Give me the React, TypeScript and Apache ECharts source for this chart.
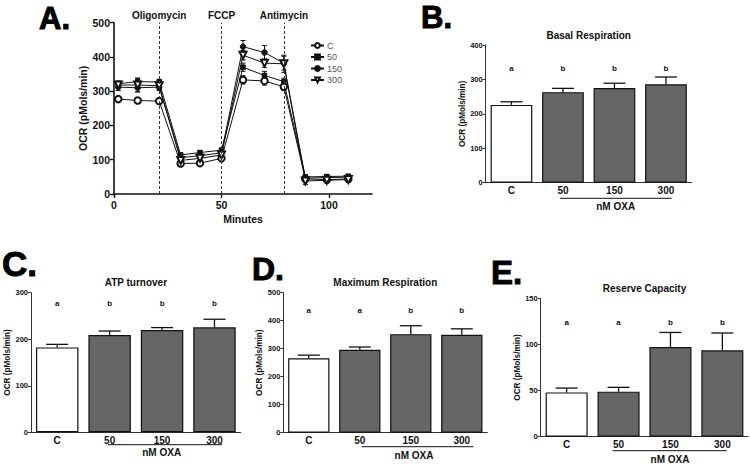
import React, { useEffect, useRef } from "react";
import * as echarts from "echarts";

const FONT = "'Liberation Sans', Arial, Helvetica, sans-serif";
const INK = "#111";

// ---------- Panel A: OCR time course ----------
const minutes = [2, 11, 21, 31, 40, 50, 60, 70, 79, 89, 99, 109];
const groups = ["C", "50", "150", "300"];
const ocrC = [277, 273, 271, 89, 90, 104, 333, 330, 313, 44, 42, 44];
const errC = [6, 6, 8, 6, 5, 6, 12, 12, 10, 8, 8, 6];
const ocr50 = [322, 328, 327, 114, 121, 128, 370, 346, 328, 50, 51, 52];
const err50 = [8, 10, 8, 5, 5, 6, 12, 12, 10, 5, 5, 5];
const ocr150 = [312, 310, 312, 106, 112, 120, 430, 413, 382, 46, 48, 49];
const err150 = [10, 12, 10, 5, 5, 6, 18, 20, 20, 6, 5, 6];
const ocr300 = [318, 318, 316, 98, 104, 114, 405, 382, 380, 38, 40, 42];
const err300 = [8, 20, 10, 6, 5, 6, 14, 12, 25, 10, 8, 8];
const injectionTimes = [21, 50, 79];
const injectionNames = ["Oligomycin", "FCCP", "Antimycin"];
const timeTicks = [0, 50, 100];

// ---------- Bar panels ----------
const barCategories = ["C", "50", "150", "300"];
const basalMean = [226, 263, 275, 286];
const basalErr = [9, 11, 14, 21];
const basalLetters = ["a", "b", "b", "b"];
const atpMean = [182.5, 209, 220, 225.5];
const atpErr = [6.5, 8.6, 5, 17.5];
const atpLetters = ["a", "b", "b", "b"];
const maxMean = [266, 296, 352, 350];
const maxErr = [11, 10, 30, 21];
const maxLetters = ["a", "a", "b", "b"];
const reserveMean = [48, 48.8, 97.2, 93.6];
const reserveErr = [4.7, 4.7, 15.8, 18.8];
const reserveLetters = ["a", "a", "b", "b"];

const seriesA = [
  { name: "C", y: ocrC, e: errC, symbol: "emptyCircle", size: 6.5, rotate: 0 },
  { name: "50", y: ocr50, e: err50, symbol: "rect", size: 4.5, rotate: 0 },
  { name: "150", y: ocr150, e: err150, symbol: "circle", size: 5.5, rotate: 0 },
  { name: "300", y: ocr300, e: err300, symbol: "emptyTriangle", size: 7, rotate: 180 },
];

const barPanels = [
  {
    letter: "B.", letterX: 421, letterY: 17.5, letterSize: 31,
    title: "Basal Respiration", mean: basalMean, err: basalErr, letters: basalLetters,
    max: 400, interval: 100, letterPos: 332,
    grid: { left: 485.7, top: 45, width: 206, height: 137.7 },
    nameGap: 16, lineX: [560, 671.7], lineY: 198.3, oxaX: 615.7, oxaY: 206.8,
  },
  {
    letter: "C.", letterX: 2, letterY: 263.5, letterSize: 35,
    title: "ATP turnover", mean: atpMean, err: atpErr, letters: atpLetters,
    max: 300, interval: 100, letterPos: 277,
    grid: { left: 31, top: 292.7, width: 209.7, height: 139.6 },
    nameGap: 16, lineX: [108, 222], lineY: 444.7, oxaX: 161.7, oxaY: 452.8,
  },
  {
    letter: "D.", letterX: 252, letterY: 269, letterSize: 32,
    title: "Maximum Respiration", mean: maxMean, err: maxErr, letters: maxLetters,
    max: 500, interval: 100, letterPos: 436,
    grid: { left: 283.3, top: 292.7, width: 204, height: 140 },
    nameGap: 18, lineX: [361.7, 473.3], lineY: 446.7, oxaX: 414, oxaY: 455,
  },
  {
    letter: "E.", letterX: 491, letterY: 272.5, letterSize: 33,
    title: "Reserve Capacity", mean: reserveMean, err: reserveErr, letters: reserveLetters,
    max: 150, interval: 50, letterPos: 124,
    grid: { left: 540.7, top: 298.3, width: 207.6, height: 138.4 },
    nameGap: 16.5, lineX: [612.7, 726.7], lineY: 450.7, oxaX: 670, oxaY: 459.3,
  },
];

function buildOption() {
  const grids: any[] = [{ left: 114, top: 22.7, width: 258, height: 171.3 }];
  const xAxes: any[] = [
    {
      type: "value", gridIndex: 0, min: 0, max: 120,
      name: "Minutes", nameLocation: "middle", nameGap: 19,
      nameTextStyle: { fontFamily: FONT, fontWeight: "bold", fontSize: 10.5, color: INK },
      axisLine: { show: true, lineStyle: { color: INK, width: 1.6 } },
      axisTick: { show: true, length: 4, lineStyle: { color: INK, width: 1.4 }, customValues: timeTicks },
      axisLabel: { fontFamily: FONT, fontWeight: "bold", fontSize: 10.5, color: INK, margin: 5, customValues: timeTicks },
      splitLine: { show: false },
    },
  ];
  const yAxes: any[] = [
    {
      type: "value", gridIndex: 0, min: 0, max: 500, interval: 100,
      name: "OCR (pMols/min)", nameLocation: "middle", nameGap: 24, nameRotate: 90,
      nameTextStyle: { fontFamily: FONT, fontWeight: "bold", fontSize: 10.5, color: INK },
      axisLine: { show: true, lineStyle: { color: INK, width: 1.6 } },
      axisTick: { show: true, length: 4, lineStyle: { color: INK, width: 1.4 } },
      axisLabel: { fontFamily: FONT, fontWeight: "bold", fontSize: 10.5, color: INK, margin: 4 },
      splitLine: { show: false },
    },
  ];
  const series: any[] = [];

  seriesA.forEach((s, k) => {
    series.push({
      type: "custom", name: s.name + " err", xAxisIndex: 0, yAxisIndex: 0, z: 2,
      data: minutes.map((m, i) => [m, s.y[i], s.e[i]]),
      encode: { x: 0, y: 1 },
      renderItem: (params: any, api: any) => {
        const x = api.value(0), y = api.value(1), e = api.value(2);
        const t = api.coord([x, y + e]);
        const b = api.coord([x, y - e]);
        const w = 2.5;
        const st = { stroke: INK, lineWidth: 1 };
        return {
          type: "group",
          children: [
            { type: "line", shape: { x1: t[0], y1: t[1], x2: b[0], y2: b[1] }, style: st },
            { type: "line", shape: { x1: t[0] - w, y1: t[1], x2: t[0] + w, y2: t[1] }, style: st },
            { type: "line", shape: { x1: b[0] - w, y1: b[1], x2: b[0] + w, y2: b[1] }, style: st },
          ],
        };
      },
    });
    const line: any = {
      type: "line", name: s.name, xAxisIndex: 0, yAxisIndex: 0, z: 3,
      data: minutes.map((m, i) => [m, s.y[i]]),
      symbol: s.symbol, symbolSize: s.size, symbolRotate: s.rotate, showAllSymbol: true,
      lineStyle: { color: INK, width: 1 },
      itemStyle: { color: INK, borderColor: INK, borderWidth: 1 },
    };
    if (k === 0) {
      line.markLine = {
        silent: true, symbol: "none", animation: false,
        lineStyle: { color: "#333", type: [3, 2], width: 1 },
        label: {
          show: true, position: "end", distance: 2,
          fontFamily: FONT, fontWeight: "bold", fontSize: 10, color: INK,
          formatter: (p: any) => injectionNames[injectionTimes.indexOf(p.value)],
        },
        data: injectionTimes.map((t) => ({ xAxis: t })),
      };
    }
    series.push(line);
  });

  const graphics: any[] = [
    {
      type: "text", x: 39, y: 18,
      style: { text: "A.", font: `bold 31px ${FONT}`, fill: "#000", stroke: "#000", lineWidth: 1, verticalAlign: "middle" },
    },
  ];

  barPanels.forEach((p, idx) => {
    const gi = idx + 1;
    grids.push(p.grid);
    xAxes.push({
      type: "category", gridIndex: gi, data: barCategories,
      axisLine: { show: true, lineStyle: { color: "#333", width: 1 } },
      axisTick: { show: false },
      axisLabel: { fontFamily: FONT, fontWeight: "bold", fontSize: 10, color: INK, margin: 3 },
    });
    yAxes.push({
      type: "value", gridIndex: gi, min: 0, max: p.max, interval: p.interval,
      name: "OCR (pMols/min)", nameLocation: "middle", nameGap: p.nameGap, nameRotate: 90,
      nameTextStyle: { fontFamily: FONT, fontWeight: "bold", fontSize: 8.2, color: INK },
      axisLine: { show: true, lineStyle: { color: "#333", width: 1 } },
      axisTick: { show: true, length: 3, lineStyle: { color: "#333", width: 1 } },
      axisLabel: { fontFamily: FONT, fontWeight: "bold", fontSize: 7.5, color: INK, margin: 3 },
      splitLine: { show: false },
    });
    series.push({
      type: "custom", xAxisIndex: gi, yAxisIndex: gi, z: 1,
      data: p.mean.map((v, i) => [i, v, p.err[i]]),
      encode: { x: 0, y: 1 },
      renderItem: (params: any, api: any) => {
        const i = api.value(0), v = api.value(1), e = api.value(2);
        const b = api.coord([i, v]);
        const t = api.coord([i, v + e]);
        const w = 11;
        const st = { stroke: INK, lineWidth: 1.3 };
        return {
          type: "group",
          children: [
            { type: "line", shape: { x1: b[0], y1: b[1], x2: t[0], y2: t[1] }, style: st },
            { type: "line", shape: { x1: t[0] - w, y1: t[1], x2: t[0] + w, y2: t[1] }, style: st },
          ],
        };
      },
    });
    series.push({
      type: "bar", xAxisIndex: gi, yAxisIndex: gi, z: 2, barWidth: "81%",
      data: p.mean.map((v, i) => ({ value: v, itemStyle: { color: i === 0 ? "#fff" : "#666" } })),
      itemStyle: { borderColor: INK, borderWidth: 1.2 },
    });
    series.push({
      type: "custom", xAxisIndex: gi, yAxisIndex: gi, z: 3,
      data: p.letters.map((l, i) => [i, p.letterPos]),
      encode: { x: 0, y: 1 },
      renderItem: (params: any, api: any) => {
        const c = api.coord([api.value(0), api.value(1)]);
        return {
          type: "text", x: c[0], y: c[1],
          style: {
            text: p.letters[params.dataIndex], fontFamily: FONT, fontWeight: "bold", fontSize: 8,
            fill: INK, align: "center", verticalAlign: "middle",
          },
        };
      },
    });
    graphics.push(
      {
        type: "text", x: p.letterX, y: p.letterY,
        style: { text: p.letter, font: `bold ${p.letterSize}px ${FONT}`, fill: "#000", stroke: "#000", lineWidth: 1, verticalAlign: "middle" },
      },
      {
        type: "text", x: p.grid.left + p.grid.width / 2, y: p.grid.top - 10,
        style: { text: p.title, font: `bold 10px ${FONT}`, fill: INK, align: "center", verticalAlign: "middle" },
      },
      {
        type: "line", shape: { x1: p.lineX[0], y1: p.lineY, x2: p.lineX[1], y2: p.lineY },
        style: { stroke: INK, lineWidth: 1 },
      },
      {
        type: "text", x: p.oxaX, y: p.oxaY,
        style: { text: "nM OXA", font: `bold 10px ${FONT}`, fill: INK, align: "center", verticalAlign: "middle" },
      }
    );
  });

  return {
    animation: false,
    backgroundColor: "#fff",
    grid: grids,
    xAxis: xAxes,
    yAxis: yAxes,
    legend: {
      data: groups, orient: "vertical", left: 305, top: 36,
      itemWidth: 13, itemHeight: 6, itemGap: 2.5,
      textStyle: { fontFamily: FONT, fontSize: 9, color: "#555", padding: [0, 0, 0, -2] },
    },
    graphic: graphics,
    series,
  };
}

export default function App() {
  const ref = useRef<HTMLDivElement>(null);
  useEffect(() => {
    if (!ref.current) return;
    const chart = echarts.init(ref.current, undefined, { renderer: "svg" });
    chart.setOption(buildOption() as any);
    return () => chart.dispose();
  }, []);
  return (
    <div
      ref={ref}
      style={{ position: "absolute", left: 0, top: 0, width: 750, height: 467, background: "#fff" }}
    />
  );
}
